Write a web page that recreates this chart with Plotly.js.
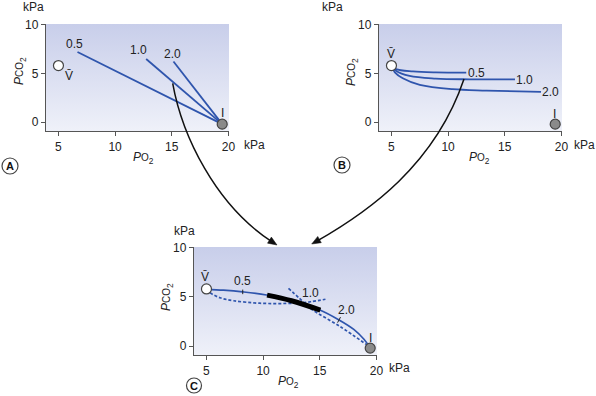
<!DOCTYPE html>
<html><head><meta charset="utf-8">
<script src="https://cdn.plot.ly/plotly-3.0.1.min.js"></script>
<style>html,body{margin:0;padding:0;background:#fff}#chart{width:596px;height:396px}</style>
</head><body><div id="chart"></div>
<script>
// ---------- data ----------
const xTicks = [5, 10, 15, 20];
const yTicks = [0, 5, 10];
const xRange = [3.9, 20.05];
const yRange = [-0.9, 10.05];
const ratioLabels = ['0.5', '1.0', '2.0'];
const vX = 5.0, vY = 5.8;      // mixed venous point
const iX = 19.45, iY = -0.2;   // inspired point

// Panel A: straight lines from I
const aStartX = [6.68, 12.74, 15.15];
const aStartY = [7.18, 6.47, 6.22];
const aLabelX = [6.4, 12.06, 15.06];
const aLabelY = [7.98, 7.35, 6.98];

// Panel B: curves from V
const b05X = [5.0, 5.4, 6.9, 8.9, 11.6];
const b05Y = [5.8, 5.44, 5.2, 5.1, 5.07];
const b10X = [5.0, 5.4, 6.6, 8.9, 11.9, 15.9];
const b10Y = [5.8, 5.27, 4.73, 4.46, 4.39, 4.39];
const b20X = [5.0, 5.3, 6.0, 7.5, 10.4, 13.4, 18.2];
const b20Y = [5.8, 5.1, 4.49, 3.82, 3.38, 3.24, 3.1];
const bLabelX = [12.5, 16.7, 19.05];
const bLabelY = [5.07, 4.32, 3.07];

// Panel C
const cSolidX = [5.0, 6.5, 8.2, 10.3, 12.5, 15.0, 16.7, 18.0, 18.9, 19.4];
const cSolidY = [5.76, 5.67, 5.5, 5.18, 4.6, 3.67, 2.66, 1.7, 0.7, -0.1];
const cThickX = [10.35, 12.5, 15.05];
const cThickY = [5.17, 4.6, 3.65];
const cDashBX = [5.3, 6.2, 7.4, 9.7, 12.7, 14.2, 15.5];
const cDashBY = [5.4, 4.9, 4.6, 4.35, 4.35, 4.5, 4.75];
const cDashAX = [12.24, 13.2, 14.15, 16.8, 19.16];
const cDashAY = [5.86, 4.85, 3.84, 1.98, 0.13];
const cTick05X = [8.2, 8.2], cTick05Y = [5.27, 5.73];
const cTick20X = [16.57, 16.83], cTick20Y = [2.38, 2.94];
const cLabelX = [8.22, 14.2, 17.4];
const cLabelY = [6.58, 5.4, 3.66];

// ---------- helpers ----------
const W = 596, H = 396;
const px = x => x / W, py = y => 1 - y / H;
const FONT = 'Liberation Sans Narrow, Liberation Sans, Arial, sans-serif';
const BLUE = '#2f55ad';
const AX = '#555';

function axisX(dom, anchor) {
  return {domain: dom, anchor: anchor, range: xRange, tickvals: xTicks, showline: true,
    linecolor: AX, linewidth: 1.2, ticks: 'outside', ticklen: 4, tickcolor: AX, tickwidth: 1.2,
    showgrid: false, zeroline: false, tickfont: {family: FONT, size: 12, color: '#222'}, fixedrange: true};
}
function axisY(dom, anchor) {
  return {domain: dom, anchor: anchor, range: yRange, tickvals: yTicks, showline: true,
    linecolor: AX, linewidth: 1.2, ticks: 'outside', ticklen: 4, tickcolor: AX, tickwidth: 1.2,
    showgrid: false, zeroline: false, tickfont: {family: FONT, size: 12, color: '#222'}, fixedrange: true};
}
function bg(xa, ya) {
  return {x: [xRange[0], xRange[1], xRange[1], xRange[0], xRange[0]],
          y: [yRange[0], yRange[0], yRange[1], yRange[1], yRange[0]],
          xaxis: xa, yaxis: ya, mode: 'lines', line: {width: 0}, fill: 'toself',
          fillgradient: {type: 'vertical', colorscale: [[0, '#eff1f9'], [1, '#c8ceea']]},
          hoverinfo: 'skip'};
}
function line(x, y, xa, ya, opts) {
  return Object.assign({x: x, y: y, xaxis: xa, yaxis: ya, mode: 'lines', hoverinfo: 'skip',
    line: {color: BLUE, width: 1.8, shape: 'spline'}}, opts || {});
}
function pts(xa, ya) {
  return [
    {x: [vX], y: [vY], xaxis: xa, yaxis: ya, mode: 'markers', cliponaxis: false, hoverinfo: 'skip',
     marker: {size: 10, color: '#fff', line: {color: '#444', width: 1.2}}},
    {x: [iX], y: [iY], xaxis: xa, yaxis: ya, mode: 'markers', cliponaxis: false, hoverinfo: 'skip',
     marker: {size: 10, color: '#8a8a8a', line: {color: '#444', width: 1.2}}}
  ];
}

const traces = [];
// Panel A
traces.push(bg('x', 'y'));
for (let k = 0; k < 3; k++) traces.push(line([aStartX[k], iX], [aStartY[k], iY], 'x', 'y', {line: {color: BLUE, width: 1.8}}));
traces.push(...pts('x', 'y'));
// Panel B
traces.push(bg('x2', 'y2'));
traces.push(line(b05X, b05Y, 'x2', 'y2'));
traces.push(line(b10X, b10Y, 'x2', 'y2'));
traces.push(line(b20X, b20Y, 'x2', 'y2'));
traces.push(...pts('x2', 'y2'));
// Panel C
traces.push(bg('x3', 'y3'));
traces.push(line(cDashBX, cDashBY, 'x3', 'y3', {line: {color: BLUE, width: 1.7, dash: '3px,2px', shape: 'spline'}}));
traces.push(line(cDashAX, cDashAY, 'x3', 'y3', {line: {color: BLUE, width: 1.7, dash: '3px,2px', shape: 'spline'}}));
traces.push(line(cSolidX, cSolidY, 'x3', 'y3', {line: {color: BLUE, width: 1.7, shape: 'spline'}}));
traces.push(line(cThickX, cThickY, 'x3', 'y3', {line: {color: '#000', width: 5, shape: 'spline'}}));
traces.push(line(cTick05X, cTick05Y, 'x3', 'y3', {line: {color: '#222', width: 1}}));
traces.push(line(cTick20X, cTick20Y, 'x3', 'y3', {line: {color: '#222', width: 1}}));
traces.push(...pts('x3', 'y3'));

// ---------- annotations ----------
const ann = [];
function t(text, x, y, xr, yr, extra) {
  ann.push(Object.assign({text: text, x: x, y: y, xref: xr, yref: yr, showarrow: false,
    font: {family: FONT, size: 12, color: '#222'}, xanchor: 'center', yanchor: 'middle'}, extra || {}));
}
const VBAR = 'V\u0304';
// panel labels A
for (let k = 0; k < 3; k++) t(ratioLabels[k], aLabelX[k], aLabelY[k], 'x', 'y');
t(VBAR, 5.97, 4.77, 'x', 'y');
t('I', iX, 0.96, 'x', 'y');
// B
for (let k = 0; k < 3; k++) t(ratioLabels[k], bLabelX[k], bLabelY[k], 'x2', 'y2');
t(VBAR, vX, 7.0, 'x2', 'y2');
t('I', 19.38, 0.8, 'x2', 'y2');
// C
for (let k = 0; k < 3; k++) t(ratioLabels[k], cLabelX[k], cLabelY[k], 'x3', 'y3');
t(VBAR, 4.9, 7.0, 'x3', 'y3');
t('I', iX, 0.87, 'x3', 'y3');

// axis titles / units (paper coords from pixels)
const PCO2 = '<i>P</i><span style="font-size:10px">CO</span><sub>2</sub>';
const PO2 = '<i>P</i><span style="font-size:10px">O</span><sub>2</sub>';
const paperTxt = (text, x, y, extra) => t(text, px(x), py(y), 'paper', 'paper', extra);
paperTxt(PCO2, 20, 71, {textangle: -90});
paperTxt(PCO2, 352, 72, {textangle: -90});
paperTxt(PCO2, 167, 297, {textangle: -90});
paperTxt(PO2, 143, 158);
paperTxt(PO2, 479, 158);
paperTxt(PO2, 288, 382);
paperTxt('kPa', 33, 7);
paperTxt('kPa', 332, 7);
paperTxt('kPa', 184, 231);
paperTxt('kPa', 254, 145);
paperTxt('kPa', 584, 145);
paperTxt('kPa', 399, 368);
const LF = {font: {family: FONT, size: 11, color: '#111'}};
paperTxt('<b>A</b>', 10, 166, LF);
paperTxt('<b>B</b>', 342, 165, LF);
paperTxt('<b>C</b>', 194, 385.5, LF);

// ---------- shapes (letter circles, arrows) ----------
const shapes = [];
function circ(cx, cy, r) {
  shapes.push({type: 'circle', xref: 'paper', yref: 'paper', x0: px(cx - r), x1: px(cx + r),
    y0: py(cy + r), y1: py(cy - r), line: {color: '#444', width: 1.2}, fillcolor: 'rgba(0,0,0,0)'});
}
circ(10, 166, 8); circ(342, 165, 8); circ(194, 385.5, 7.5);
const P = (x, y) => px(x) + ',' + py(y);
function arrow(p0, c1, c2, p3) {
  const dx = p3[0] - c2[0], dy = p3[1] - c2[1], L = Math.hypot(dx, dy);
  const ux = dx / L, uy = dy / L, hl = 9, hw = 3.6;
  const end = [p3[0] - ux * hl * 0.6, p3[1] - uy * hl * 0.6];
  shapes.push({type: 'path', xref: 'paper', yref: 'paper', layer: 'above',
    path: 'M' + P(...p0) + ' C' + P(...c1) + ' ' + P(...c2) + ' ' + P(...end),
    line: {color: '#111', width: 1.5}});
  const bx = p3[0] - ux * hl, by = p3[1] - uy * hl;
  shapes.push({type: 'path', xref: 'paper', yref: 'paper', layer: 'above',
    path: 'M' + P(p3[0], p3[1]) + ' L' + P(bx - uy * hw, by + ux * hw) + ' L' + P(bx + uy * hw, by - ux * hw) + ' Z',
    fillcolor: '#111', line: {color: '#111', width: 0.5}});
}
arrow([172.7, 83.3], [182, 135], [215, 205], [277, 245]);
arrow([464, 79], [435, 165], [368, 212], [311.7, 244]);

const layout = {
  width: W, height: H, margin: {l: 0, r: 0, t: 0, b: 0}, showlegend: false,
  paper_bgcolor: '#fff', plot_bgcolor: 'rgba(0,0,0,0)',
  xaxis: axisX([46 / W, 229 / W], 'y'), yaxis: axisY([py(131), py(24)], 'x'),
  xaxis2: axisX([379 / W, 562 / W], 'y2'), yaxis2: axisY([py(131), py(24)], 'x2'),
  xaxis3: axisX([194 / W, 377 / W], 'y3'), yaxis3: axisY([py(355), py(247)], 'x3'),
  annotations: ann, shapes: shapes
};
Plotly.newPlot('chart', traces, layout, {staticPlot: true});
</script></body></html>
